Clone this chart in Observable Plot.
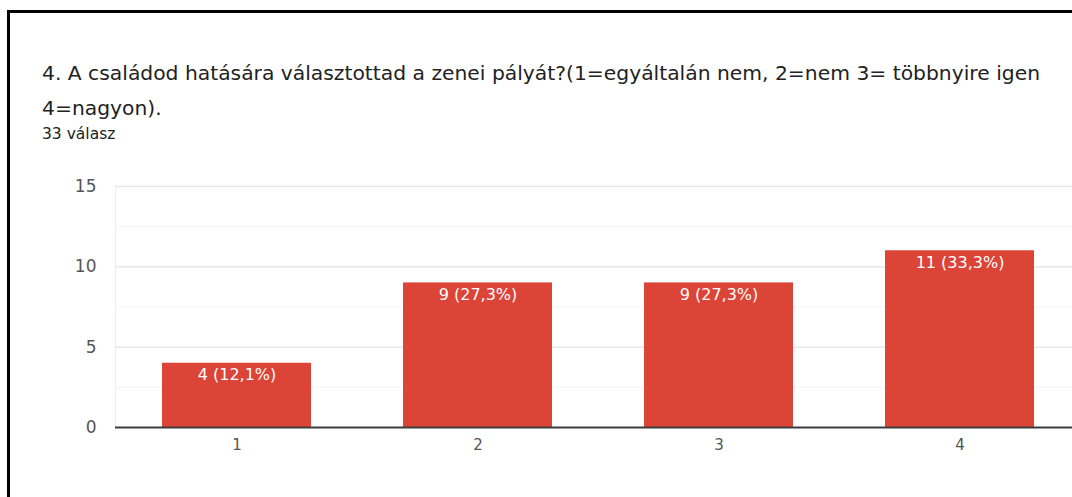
<!DOCTYPE html>
<html>
<head>
<meta charset="utf-8">
<script src="https://cdn.jsdelivr.net/npm/d3@7"></script>
<script src="https://cdn.jsdelivr.net/npm/@observablehq/plot@0.6"></script>
<style>
  html, body { margin: 0; padding: 0; background: #fff; overflow: hidden; width: 1072px; height: 497px; }
  #frame { position: absolute; left: 7px; top: 10px; width: 1100px; height: 600px; border: 3px solid #000; box-sizing: border-box; }
  #title { position: absolute; left: 42px; top: 56px; font-family: "DejaVu Sans", sans-serif; font-size: 20.3px; line-height: 35px; color: #222; width: 1030px; white-space: nowrap; }
  #sub { position: absolute; left: 42px; top: 125px; font-family: "DejaVu Sans", sans-serif; font-size: 15.5px; color: #222; }
  #chart { position: absolute; left: 0; top: 170px; }
</style>
</head>
<body>
<div id="frame"></div>
<div id="title">4. A családod hatására választottad a zenei pályát?(1=egyáltalán nem, 2=nem 3= többnyire igen<br>4=nagyon).</div>
<div id="sub">33 válasz</div>
<div id="chart"></div>
<script>
const categories = ["1", "2", "3", "4"];
const counts = [4, 9, 9, 11];
const percents = ["12,1", "27,3", "27,3", "33,3"];
const yTicks = [0, 5, 10, 15];
const minorTicks = [2.5, 7.5, 12.5];

const data = categories.map((c, i) => ({
  cat: c,
  n: counts[i],
  label: `${counts[i]} (${percents[i]}%)`
}));

const chart = Plot.plot({
  width: 1072,
  height: 300,
  marginTop: 16,
  marginBottom: 43,
  marginLeft: 115,
  marginRight: 0,
  style: { fontFamily: "'DejaVu Sans', sans-serif", fontSize: "15px", color: "#555", background: "transparent" },
  x: { domain: categories, range: [115, 1082], paddingInner: 0.38, paddingOuter: 0.19, label: null },
  y: { domain: [0, 15], label: null },
  marks: [
    Plot.frame({ anchor: "left", stroke: "#eeeeee" }),
    Plot.ruleY(minorTicks, { stroke: "#f3f3f3", strokeWidth: 1 }),
    Plot.ruleY(yTicks.filter(d => d > 0), { stroke: "#e8e8e8", strokeWidth: 1.5 }),
    Plot.barY(data, { x: "cat", y: "n", fill: "#db4437" }),
    Plot.ruleY([0], { stroke: "#3c3c3c", strokeWidth: 2 }),
    Plot.text(data, { x: "cat", y: "n", text: "label", fill: "white", dy: 12, fontSize: 16 }),
    Plot.axisY({ ticks: yTicks, tickSize: 0, tickPadding: 19, fontSize: 17, fill: "#555", label: null }),
    Plot.axisX({ tickSize: 0, tickPadding: 12, fontSize: 15, fill: "#555", label: null })
  ]
});
document.getElementById("chart").appendChild(chart);
</script>
</body>
</html>
